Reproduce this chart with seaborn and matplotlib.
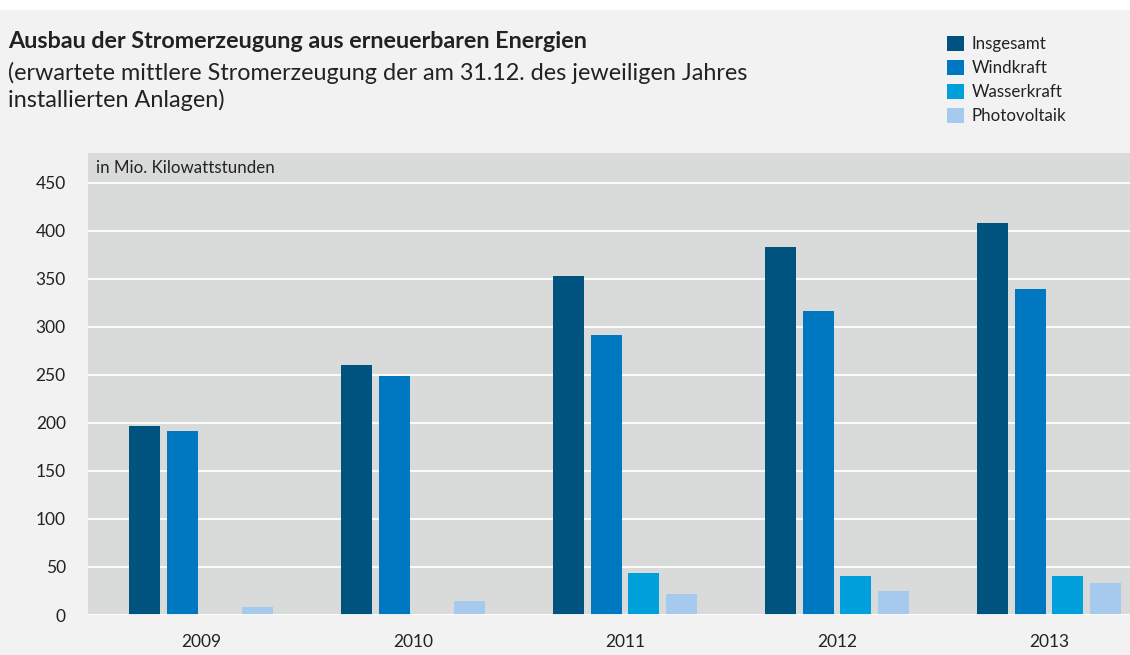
import matplotlib.pyplot as plt
import matplotlib.patches as mpatches
import seaborn as sns
import numpy as np
import pandas as pd

# values (Mio. kWh)
jahre = ["2009", "2010", "2011", "2012", "2013"]
arten = ["Insgesamt", "Windkraft", "Wasserkraft", "Photovoltaik"]
insgesamt = [197, 260, 353, 383, 408]
windkraft = [192, 249, 291, 317, 339]
wasserkraft = [np.nan, np.nan, 44, 41, 41]
photovoltaik = [8, 15, 22, 25, 33]

farben = ["#00527f", "#0078c1", "#00a0dc", "#a5caed"]

rows = []
for art, werte in zip(arten, [insgesamt, windkraft, wasserkraft, photovoltaik]):
    for jahr, w in zip(jahre, werte):
        rows.append({"Jahr": jahr, "Art": art, "Wert": w})
df = pd.DataFrame(rows)

sns.set_theme(style="white")
plt.rcParams['font.family'] = ['Lato', 'DejaVu Sans']
plt.rcParams['text.color'] = '#222222'

fig = plt.figure(figsize=(11.3, 6.55), dpi=100)
fig.patch.set_facecolor('#f2f2f2')
# white strip at the very top
fig.patches.append(mpatches.Rectangle((0, 1 - 10 / 655), 1, 10 / 655, transform=fig.transFigure,
                                      facecolor='white', edgecolor='none', zorder=0))

ax = fig.add_axes([88 / 1130, 1 - 615 / 655, 1 - 88 / 1130, (615 - 153) / 655])
ax.set_facecolor('#d9dbda')

sns.barplot(data=df, x="Jahr", y="Wert", hue="Art", hue_order=arten, order=jahre,
            palette=farben, width=0.711, gap=0.18, saturation=1, linewidth=0,
            edgecolor='none', ax=ax, zorder=3)

handles, labels = ax.get_legend_handles_labels()
ax.get_legend().remove()

ax.set_ylim(0, 481)
ax.set_xlim(-0.533, 4.382)
ax.set_yticks(np.arange(0, 451, 50))
ax.yaxis.grid(True, color='white', linewidth=1.3, zorder=1)
ax.set_axisbelow(True)
for s in ax.spines.values():
    s.set_visible(False)
ax.axhline(0, color='white', linewidth=2, zorder=4)
ax.tick_params(axis='both', length=0, labelsize=12.5, colors='#222222')
ax.tick_params(axis='y', pad=16)
ax.tick_params(axis='x', pad=14)
ax.set_xlabel("")
ax.set_ylabel("")

ax.text(8 / 1042, 1 - 15 / 462, "in Mio. Kilowattstunden", transform=ax.transAxes,
        fontsize=12.2, va='center', ha='left', color='#222222')

fig.text(8 / 1130, 1 - 42 / 655, "Ausbau der Stromerzeugung aus erneuerbaren Energien",
         fontsize=16.8, fontweight='bold', va='center', ha='left')
fig.text(8 / 1130, 1 - 73 / 655, "(erwartete mittlere Stromerzeugung der am 31.12. des jeweiligen Jahres",
         fontsize=16.8, va='center', ha='left')
fig.text(8 / 1130, 1 - 100 / 655, "installierten Anlagen)",
         fontsize=16.8, va='center', ha='left')

fig.legend(handles, labels, loc='upper left', bbox_to_anchor=(940 / 1130, 1 - 29 / 655),
           frameon=False, fontsize=12.2, handlelength=1.0, handleheight=1.0,
           handletextpad=0.45, labelspacing=0.45, borderaxespad=0)

fig.savefig("out.png", dpi=100, facecolor=fig.get_facecolor())
